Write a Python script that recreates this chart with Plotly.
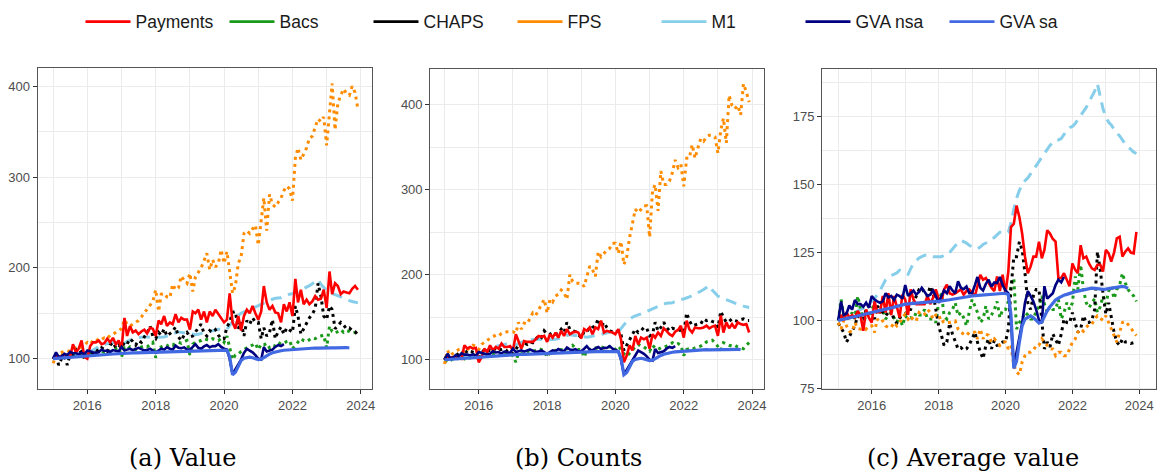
import pandas as pd
import plotly.graph_objects as go

# ---------------- data (monthly index, Jan 2015 = 100) ----------------
months = pd.date_range("2015-01-01", "2023-12-01", freq="MS")

series_names = ["Payments", "Bacs", "CHAPS", "FPS", "M1", "GVA nsa", "GVA sa"]
panel_titles = ["(a) Value", "(b) Counts", "(c) Average value"]
year_ticks = ["2016", "2018", "2020", "2022", "2024"]

m1 = [100, 100.5, 101, 101.5, 102, 102.5, 103, 103.5, 104, 104.5, 105.5, 106.5,
      107, 108, 109.5, 111, 113, 115, 116, 116.5, 117, 117.5, 118.5, 118,
      117.5, 117, 119, 121, 122, 123, 123.5, 124, 124, 124, 123.5, 123.5,
      123.5, 123.5, 124, 124, 125, 126.5, 127.5, 128.5, 129.5, 129, 128.5, 127.7,
      127, 126.5, 126.5, 127, 128, 128.5, 129, 130, 130.5, 131.5, 132.5, 132.5,
      132, 132.5, 136, 141, 145, 148, 150, 151.5, 152.5, 154, 155.5, 157,
      158.5, 160, 161.5, 163, 164.5, 165.5, 166.5, 166.5, 167, 168.5, 170, 171,
      171.5, 172.5, 174, 175.5, 177, 178.5, 180.5, 182.5, 184.5, 187.2, 182, 178,
      175, 173, 172, 170.5, 169, 168, 166.5, 165, 164, 163, 162, 161.5]

gva_nsa = [100, 107, 102, 102.5, 105.5, 104, 107.5, 106, 106, 105, 106.5, 104.7,
           109, 107.7, 107, 106.5, 107, 110, 108.5, 109, 107.5, 109.5, 109, 108,
           113, 109, 110, 111, 109.5, 110.5, 112, 110.5, 109, 109.5, 111, 109,
           106.5, 109, 111, 110, 112.6, 111, 110, 114.4, 112, 111.5, 112.5, 110,
           110, 113, 116, 112, 111, 113.5, 115, 112.5, 114, 113.8, 116, 113,
           111, 110, 100, 83, 88, 94, 99, 106.5, 110.8, 109, 107, 104,
           100, 99, 112.6, 108, 109, 110, 113, 115, 114, 116]

gva_sa = [100, 100.2, 100.4, 100.6, 100.8, 101, 101.3, 101.6, 101.9, 102.2, 102.5, 102.8,
          103, 103.2, 103.4, 103.6, 103.8, 104, 104.3, 104.6, 104.9, 105.2, 105.5, 105.8,
          106, 106.1, 106.2, 106.3, 106.4, 106.5, 106.6, 106.7, 106.8, 106.9, 107, 107,
          107, 107.1, 107.2, 107.4, 107.6, 107.8, 108, 108.2, 108.4, 108.6, 108.8, 108.9,
          109, 109.1, 109.2, 109.3, 109.4, 109.5, 109.6, 109.7, 109.8, 109.9, 110, 110,
          110, 109.5, 102, 82.3, 85, 92, 98, 100.5, 101.2, 101.7, 101, 100,
          99, 99.5, 101.5, 103.5, 105, 106.5, 107.5, 108.2, 108.8, 109.3, 109.6, 110,
          110.3, 110.6, 110.8, 111, 111.3, 111.6, 111.8, 111.9, 111.8, 111.6, 111.5, 111.4,
          111.5, 111.7, 111.9, 112, 112.2, 112.4, 112.5, 112.3, 111.8]

# (a) Value
pay_a = [100, 104, 102, 103, 105, 103, 102, 116, 107, 111, 120, 102,
         100, 114, 118, 118, 120, 116, 117, 122, 118, 123, 116, 120,
         111, 145, 125, 136, 129, 131, 127, 130, 132, 128, 134, 133,
         125, 142, 138, 147, 136, 140, 138, 149, 140, 145, 143, 143,
         132, 152, 150, 154, 143, 152, 140, 152, 147, 154, 149, 145,
         140, 143, 172, 140, 133, 147, 131, 147, 154, 150, 158, 150,
         143, 152, 180, 162, 154, 158, 151, 150, 140, 160, 152, 162,
         147, 188, 162, 176, 160, 165, 160, 163, 169, 165, 166, 176,
         156, 196, 171, 183, 180, 171, 174, 173, 172, 177, 180, 176]
bacs_a = [100, 102, 101, 103, 102, 104, 103, 104, 105, 104, 106, 105,
          102, 106, 105, 107, 106, 108, 107, 109, 108, 110, 111, 112,
          102, 112, 110, 113, 111, 110, 112, 113, 114, 113, 116, 118,
          101, 112, 113, 115, 114, 116, 115, 117, 118, 117, 119, 120,
          104, 116, 118, 119, 120, 122, 121, 120, 122, 121, 120, 122,
          118, 125, 112, 99, 104, 105, 108, 110, 112, 114, 115, 117,
          110, 116, 115, 117, 112, 115, 114, 118, 116, 117, 119, 120,
          111, 115, 118, 122, 120, 119, 121, 123, 122, 124, 125, 126,
          112, 136, 130, 128, 130, 132, 129, 131, 130, 128, 129, 127]
chaps_a = [100, 105, 93, 100, 103, 93, 105, 104, 110, 106, 108, 100,
           103, 108, 106, 110, 108, 112, 110, 108, 115, 118, 112, 115,
           112, 118, 116, 122, 119, 115, 120, 118, 124, 128, 136, 125,
           122, 129, 126, 133, 125, 128, 130, 135, 124, 120, 126, 129,
           124, 125, 130, 134, 138, 128, 125, 131, 129, 132, 126, 122,
           122, 135, 140, 151, 152, 133, 140, 125, 142, 138, 145, 140,
           140, 122, 134, 125, 129, 143, 122, 130, 135, 127, 134, 131,
           129, 158, 147, 127, 133, 140, 145, 149, 155, 183, 169, 147,
           143, 158, 154, 133, 136, 140, 137, 133, 134, 131, 130, 126]
fps_a = [95, 104, 106, 107, 108, 109, 108, 110, 112, 111, 113, 115,
         118, 116, 120, 119, 122, 121, 123, 122, 126, 127, 129, 131,
         133, 143, 138, 136, 138, 140, 142, 146, 150, 155, 158, 163,
         176, 152, 171, 172, 168, 167, 182, 176, 178, 191, 186, 183,
         194, 174, 190, 195, 200, 208, 216, 198, 209, 201, 205, 220,
         205, 218, 195, 172, 180, 205, 212, 238, 241, 238, 243, 247,
         225, 254, 277, 241, 281, 270, 267, 272, 277, 285, 290, 287,
         274, 321, 332, 319, 326, 332, 343, 345, 355, 364, 361, 366,
         335, 372, 403, 352, 381, 390, 397, 392, 390, 400, 393, 375]

# (b) Counts
pay_b = [100, 104, 102, 103, 104, 102, 101, 117, 113, 115, 113, 114,
         97, 103, 113, 109, 117, 111, 115, 113, 119, 115, 115, 116,
         111, 130, 121, 113, 122, 121, 121, 121, 124, 128, 127, 128,
         121, 130, 126, 132, 126, 134, 128, 136, 130, 132, 133, 132,
         125, 136, 134, 138, 130, 138, 136, 146, 132, 134, 133, 132,
         130, 136, 124, 97, 105, 117, 111, 128, 118, 126, 124, 126,
         113, 130, 126, 132, 128, 137, 134, 130, 128, 133, 135, 140,
         126, 146, 136, 132, 138, 137, 137, 138, 140, 137, 139, 140,
         128, 152, 132, 144, 137, 142, 137, 144, 142, 141, 142, 132]
bacs_b = [97, 100, 99, 101, 100, 102, 104, 101, 103, 102, 104, 103,
          100, 104, 103, 105, 104, 106, 107, 105, 107, 106, 108, 106,
          105, 97, 108, 107, 108, 110, 109, 110, 111, 113, 112, 110,
          103, 109, 110, 111, 110, 112, 111, 113, 114, 117, 113, 112,
          112, 103, 111, 112, 113, 114, 113, 115, 114, 116, 115, 113,
          112, 116, 112, 107, 104, 108, 112, 115, 118, 116, 115, 113,
          110, 117, 114, 112, 114, 115, 116, 118, 120, 118, 119, 117,
          105, 112, 113, 112, 114, 115, 116, 118, 121, 122, 123, 120,
          116, 111, 120, 118, 117, 116, 117, 115, 114, 113, 117, 120]
chaps_b = [100, 107, 100, 103, 104, 108, 106, 112, 108, 110, 109, 108,
           100, 108, 112, 110, 111, 110, 114, 112, 112, 113, 110, 109,
           107, 112, 117, 115, 120, 118, 121, 120, 124, 128, 126, 134,
           130, 130, 132, 130, 131, 136, 132, 144, 136, 134, 133, 130,
           126, 133, 136, 134, 138, 140, 148, 139, 144, 138, 134, 133,
           132, 134, 130, 111, 117, 124, 130, 136, 132, 134, 138, 137,
           128, 130, 144, 134, 138, 144, 138, 134, 137, 136, 136, 134,
           132, 155, 146, 140, 141, 142, 142, 148, 146, 147, 145, 144,
           138, 157, 150, 144, 145, 148, 146, 145, 147, 148, 146, 146]
fps_b = [95, 111, 105, 108, 110, 112, 113, 108, 112, 114, 117, 116,
         112, 118, 121, 123, 125, 127, 129, 128, 131, 132, 133, 133,
         133, 131, 144, 136, 143, 142, 148, 155, 152, 159, 165, 171,
         155, 171, 168, 175, 177, 182, 179, 171, 200, 192, 190, 190,
         190, 186, 198, 210, 206, 198, 227, 221, 225, 229, 231, 237,
         237, 225, 239, 212, 221, 244, 260, 277, 273, 277, 281, 281,
         244, 299, 306, 275, 322, 306, 306, 310, 320, 335, 326, 330,
         304, 337, 337, 353, 337, 349, 360, 357, 362, 364, 364, 362,
         343, 370, 384, 355, 411, 399, 395, 399, 388, 424.5, 415, 403]

# (c) Average value
pay_c = [100, 102, 100, 103, 101, 102, 101, 103.5, 101.7, 96.2, 104, 101,
         99.2, 107, 103, 103, 109, 102.9, 110, 102, 109, 105, 101, 109.5,
         107.7, 102, 111.4, 107.7, 106, 106, 106, 106, 109, 106, 108.3, 111.4,
         108, 107, 111.4, 113.2, 110, 109.5, 110, 110.8, 111.4, 109.5, 110.8, 111.4,
         110, 109, 112.6, 116.8, 115, 115.6, 113.8, 112, 110.8, 116.2, 110.8, 116.8,
         110, 118, 134.4, 135.6, 142.3, 138, 132, 123.5, 117.4, 119.8, 123.5, 123.5,
         129, 122.9, 126, 133.2, 132, 130, 129, 115.6, 115.6, 117.4, 115, 112.6,
         121, 118.6, 117.4, 127.7, 122.9, 123.5, 121, 119.2, 118.6, 120.5, 120.5, 118,
         126, 124.7, 121.7, 125, 130.2, 130.8, 123.5, 125.3, 126.5, 125, 124.7, 132.6]
bacs_c = [100, 107.7, 101.7, 100.5, 101, 102.9, 100.5, 109, 104, 100.5, 101, 102,
          104, 106, 104, 103, 104, 100.5, 102, 102.9, 101, 99.2, 101.7, 98,
          101.7, 100.5, 101, 100.5, 102.9, 102, 102, 104, 100.5, 100.5, 100.5, 99.2,
          106.5, 110, 101.7, 100.5, 102.9, 104, 106.5, 101.7, 102.9, 101, 98, 103,
          107.7, 105.3, 102.9, 99.2, 100.5, 105.3, 100.5, 102, 104, 107, 101, 104,
          104, 107, 112.6, 115.6, 96.8, 99.2, 100.5, 103, 102, 100.5, 100.5, 103.5,
          105, 109, 106, 102.9, 105.3, 104, 104, 107.7, 100.5, 102.9, 106.5, 104,
          106.5, 116.2, 111.4, 120.5, 111.4, 106.5, 104.7, 106.5, 108, 102.9, 105, 109,
          106, 110.8, 112.6, 108, 111.4, 113, 117.4, 113.8, 111.4, 110, 109, 107]
chaps_c = [99, 97, 95.6, 92, 93.8, 96, 98, 101.7, 100.5, 100.5, 104, 105.3,
           103, 100.5, 105.3, 104, 102.9, 101.7, 103, 104, 100, 99, 101, 101.7,
           102.3, 104, 104, 106.5, 109, 111.4, 112, 110, 109, 112.6, 110, 103.5,
           98, 94.4, 90.8, 92, 99, 95, 92, 89.5, 90, 89, 89.5, 91,
           93.2, 95.6, 92, 88.3, 85.9, 90.8, 93.2, 89.5, 92.6, 90.8, 91, 92,
           92, 96.8, 111.4, 123.5, 123.5, 129, 126, 117.4, 106.5, 104, 109, 111.4,
           111.4, 100.5, 89.5, 92, 90.2, 95, 93.2, 90.8, 95, 100.5, 99.2, 99,
           102.9, 99.2, 95.6, 96.8, 101.7, 99.2, 99.2, 100, 104, 125.3, 118.6, 110,
           102.3, 106.5, 101.7, 95.6, 92, 90.8, 93.2, 92, 92, 91.5, 91.8, 91.4]
fps_c = [99.2, 96.8, 100, 98, 96, 95.6, 99.2, 97, 96.8, 99, 96.8, 98,
         98, 95.6, 100.5, 99.2, 99.8, 98, 97.4, 97.4, 99.2, 98, 99.2, 101,
         102.3, 100.5, 101.7, 100, 99.8, 102.9, 102, 102.3, 104, 103, 100.5, 102,
         102.3, 99.2, 99.8, 99.2, 99.2, 99.5, 99.8, 96.8, 95.6, 95, 94.4, 95.6,
         95.6, 95.6, 93.2, 96.8, 93.2, 95, 94.5, 92, 93.2, 92, 90.8, 92,
         92, 89.5, 90.8, 83.5, 81, 80, 84.7, 87, 88.3, 88.3, 89, 90.8,
         90.8, 93.2, 92, 91, 89.5, 89.5, 87, 88.3, 88.3, 87, 87, 89.5,
         92, 93.2, 95.6, 96.8, 96, 97.4, 98.6, 98.6, 100.5, 101.7, 101, 100,
         101.7, 99.2, 96.8, 93.8, 92, 95.6, 99.2, 99.6, 98.6, 97.4, 95.5, 94.4]

# ---------------- figure ----------------
W, H = 1163, 475

colors = {"Payments": "#FF0000", "Bacs": "#1A9A1A", "CHAPS": "#000000",
          "FPS": "#FF8C00", "M1": "#87CEEB", "GVA nsa": "#000080", "GVA sa": "#4169E1"}
dashes = {"Payments": "solid", "Bacs": "3px,4px", "CHAPS": "3px,4px",
          "FPS": "3px,4px", "M1": "11px,7px", "GVA nsa": "solid", "GVA sa": "solid"}
widths = {"Payments": 2.6, "Bacs": 3, "CHAPS": 3, "FPS": 3, "M1": 3,
          "GVA nsa": 2.6, "GVA sa": 3.2}
draw_order = ["M1", "Bacs", "CHAPS", "FPS", "Payments", "GVA nsa", "GVA sa"]

panels = [
    {"Payments": pay_a, "Bacs": bacs_a, "CHAPS": chaps_a, "FPS": fps_a},
    {"Payments": pay_b, "Bacs": bacs_b, "CHAPS": chaps_b, "FPS": fps_b},
    {"Payments": pay_c, "Bacs": bacs_c, "CHAPS": chaps_c, "FPS": fps_c},
]

fig = go.Figure()
for i, p in enumerate(panels):
    data = dict(p)
    data.update({"M1": m1, "GVA nsa": gva_nsa, "GVA sa": gva_sa})
    ax = "" if i == 0 else str(i + 1)
    for name in draw_order:
        vals = data[name]
        fig.add_trace(go.Scatter(
            x=months[:len(vals)], y=vals, mode="lines", name=name,
            line=dict(color=colors[name], width=widths[name], dash=dashes[name]),
            showlegend=False, xaxis="x" + ax, yaxis="y" + ax, hoverinfo="skip"))

# legend entries (solid keys)
for name in series_names:
    fig.add_trace(go.Scatter(x=[None], y=[None], mode="lines", name=name,
                             line=dict(color=colors[name], width=2.6),
                             showlegend=True, xaxis="x", yaxis="y"))

tickfont = dict(family="Liberation Sans, Arial, sans-serif", size=13, color="#4D4D4D")
grid = "#EBEBEB"

def xaxis_cfg(dom, rng, anchor):
    return dict(domain=dom, range=rng, type="date", anchor=anchor,
                tickvals=[f"{y}-01-01" for y in year_ticks], ticktext=year_ticks,
                showgrid=True, gridcolor=grid, gridwidth=1,
                ticks="outside", ticklen=4, tickwidth=1, tickcolor="#333333",
                tickfont=tickfont, showline=True, linecolor="#555555", linewidth=1,
                mirror=True, zeroline=False,
                minor=dict(dtick="M12", tick0="2015-01-01", showgrid=True,
                           gridcolor=grid, gridwidth=0.6, ticks=""))

def yaxis_cfg(dom, rng, dtick, anchor):
    return dict(domain=dom, range=rng, anchor=anchor, dtick=dtick, tick0=0,
                showgrid=True, gridcolor=grid, gridwidth=1,
                ticks="outside", ticklen=4, tickwidth=1, tickcolor="#333333",
                tickfont=tickfont, showline=True, linecolor="#555555", linewidth=1,
                mirror=True, zeroline=False,
                minor=dict(dtick=dtick / 2, showgrid=True, gridcolor=grid,
                           gridwidth=0.6, ticks=""))

ydom_a = [1 - 394.3 / H, 1 - 69.3 / H]
ydom_b = [1 - 394.3 / H, 1 - 70 / H]

fig.update_layout(
    width=W, height=H, margin=dict(l=0, r=0, t=0, b=0),
    paper_bgcolor="white", plot_bgcolor="white",
    xaxis=xaxis_cfg([37.7 / W, 372.7 / W], ["2014-07-19", "2024-04-27"], "y"),
    yaxis=yaxis_cfg(ydom_a, [66.3, 419.6], 100, "x"),
    xaxis2=xaxis_cfg([431.3 / W, 766 / W], ["2014-07-31", "2024-05-08"], "y2"),
    yaxis2=yaxis_cfg(ydom_b, [65.2, 441.8], 100, "x2"),
    xaxis3=xaxis_cfg([824.3 / W, 1159 / W], ["2014-07-09", "2024-07-02"], "y3"),
    yaxis3=yaxis_cfg(ydom_b, [74.6, 192.6], 25, "x3"),
    legend=dict(orientation="h", x=80.7 / W, xanchor="left", y=1 - 22 / H, yanchor="middle",
                itemwidth=45, entrywidth=84, entrywidthmode="pixels", traceorder="normal",
                font=dict(family="Liberation Sans, Arial, sans-serif", size=17.5, color="#1A1A1A"),
                bgcolor="rgba(0,0,0,0)", borderwidth=0),
    showlegend=True,
)

cap_x = [183, 580, 976]
for cx, t in zip(cap_x, panel_titles):
    fig.add_annotation(text=t, x=cx / W, y=1 - 464 / H, xref="paper", yref="paper",
                       xanchor="center", yanchor="middle", showarrow=False,
                       font=dict(family="DejaVu Serif, serif", size=24, color="#000000"))

fig.write_html("out.html", config={"displayModeBar": False},
               post_script="document.body.style.margin='0';document.body.style.padding='0';")
